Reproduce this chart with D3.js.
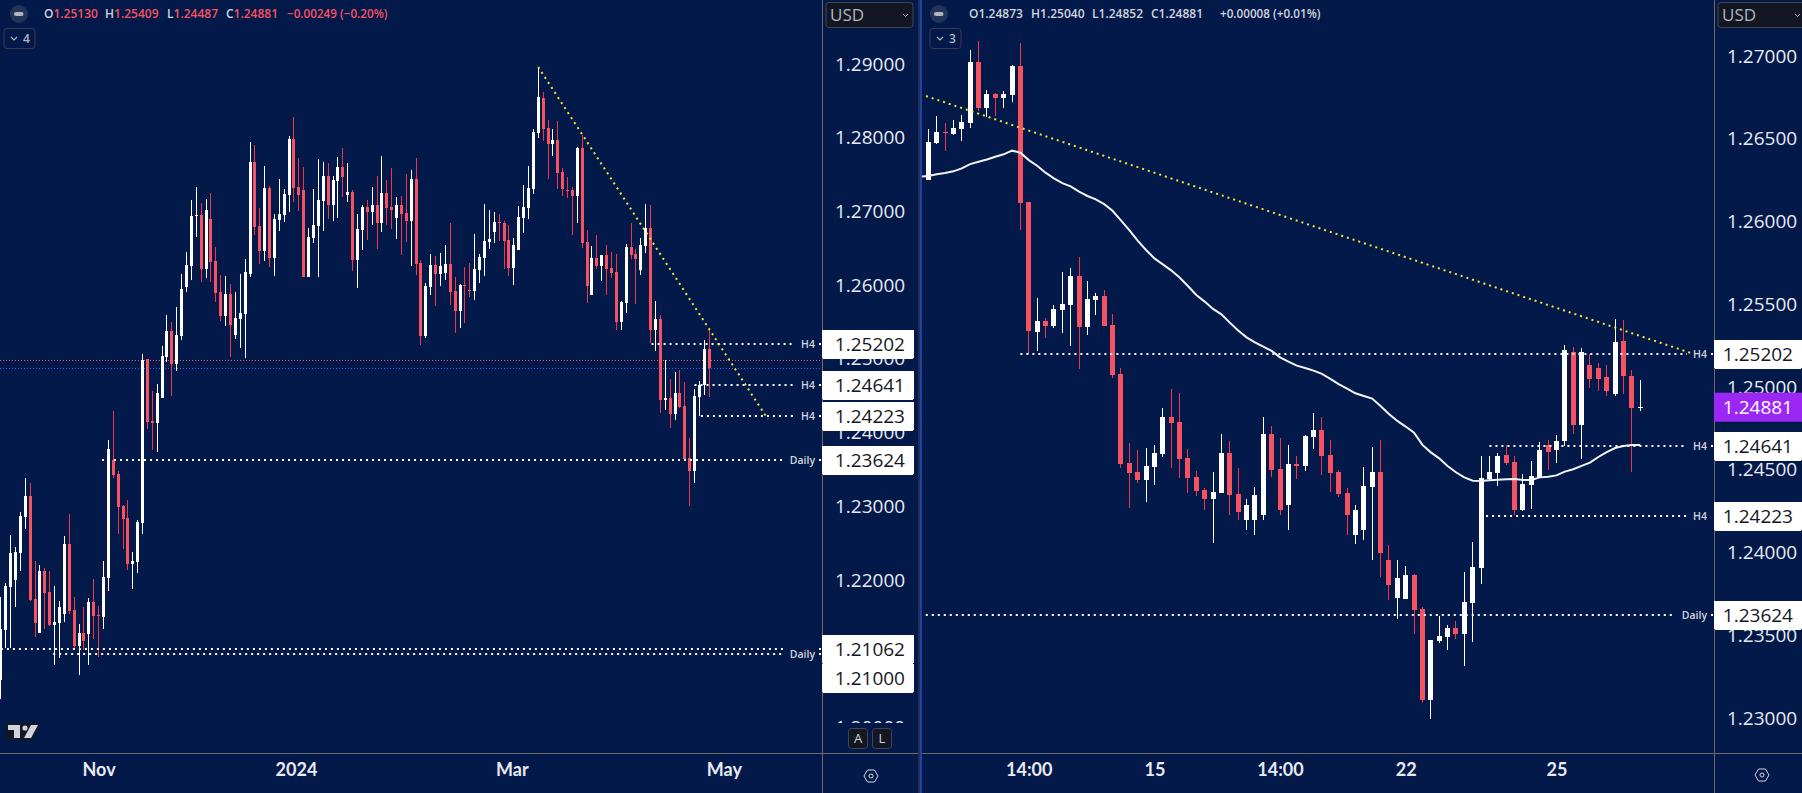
<!DOCTYPE html>
<html>
<head>
<meta charset="utf-8">
<script src="https://cdn.jsdelivr.net/npm/d3@7"></script>
<style>
  html, body { margin: 0; padding: 0; background: #02194a; overflow: hidden; }
  text { font-family: "Open Sans", sans-serif; }
  .tick text { font-family: "Open Sans", sans-serif; font-size: 19px; fill: #e8eaf0; font-weight: 500; }
  .time .tick text { font-family: Lato, sans-serif; font-size: 18px; font-weight: 700; }
</style>
</head>
<body>
<div id="chart"></div>
<script>
// left pane, daily candles
const leftOpen = [
  1.20643,1.21321,1.21905,1.21999,1.22366,1.22854,1.23139,1.21742,1.21281,1.22122,
  1.21837,1.21389,1.21416,1.21538,1.22488,1.21593,1.21104,1.21281,1.21267,1.21701,
  1.21525,1.21498,1.22027,1.23627,1.23437,1.23003,1.22841,1.22217,1.22244,1.22773,
  1.24998,1.24156,1.24129,1.24469,1.25025,1.25377,1.2493,1.2531,1.25975,1.26259,
  1.26938,1.26951,1.26219,1.26897,1.26327,1.25907,1.25581,1.2588,1.25323,1.2554,
  1.25608,1.26151,1.2767,1.26802,1.26463,1.27318,1.26368,1.26883,1.26951,1.27223,
  1.27982,1.27331,1.2729,1.2611,1.26639,1.26802,1.27141,1.2748,1.27087,1.27413,
  1.27602,1.27223,1.27263,1.26341,1.26748,1.2706,1.26992,1.27087,1.26843,1.2725,
  1.2706,1.26911,1.27087,1.26979,1.2687,1.2744,1.263,1.2531,1.25975,1.26273,
  1.26151,1.26165,1.26287,1.25921,1.25649,1.26002,1.25934,1.25921,1.26205,1.26368,
  1.26585,1.26721,1.26857,1.26843,1.26612,1.26233,1.26477,1.26911,1.27047,1.27304,
  1.28064,1.28539,1.28132,1.27915,1.27969,1.27535,1.27291,1.27291,1.27209,1.27861,
  1.26585,1.25866,1.26368,1.2626,1.26409,1.26233,1.26178,1.255,1.25758,1.26518,
  1.26423,1.26205,1.26531,1.26775,1.25392,1.25541,1.24442,1.24469,1.24252,1.24537,
  1.2436,1.23655,1.23478,1.24482,1.24645,1.2513];
const leftHigh = [
  1.21773,1.21959,1.2261,1.22447,1.22922,1.23383,1.23315,1.22257,1.22203,1.22162,
  1.22122,1.21918,1.21715,1.22596,1.22895,1.21769,1.21403,1.21633,1.21755,1.22013,
  1.21647,1.22257,1.23899,1.24292,1.23478,1.23017,1.23085,1.22379,1.22813,1.25065,
  1.24998,1.24563,1.24658,1.25174,1.25594,1.255,1.25699,1.26151,1.26449,1.27155,
  1.27331,1.27114,1.27168,1.2725,1.26517,1.26137,1.26124,1.26015,1.25907,1.26151,
  1.26354,1.27942,1.27901,1.27046,1.27616,1.27345,1.26965,1.2744,1.27304,1.28023,
  1.28281,1.27725,1.27602,1.26775,1.27304,1.27711,1.2767,1.27657,1.2748,1.27738,
  1.2786,1.27657,1.2729,1.26965,1.27087,1.27155,1.27331,1.2748,1.27752,1.27426,
  1.27589,1.27196,1.27209,1.27508,1.27562,1.27725,1.26341,1.26029,1.26423,1.26395,
  1.26436,1.26545,1.26843,1.26111,1.26016,1.26246,1.263,1.26694,1.26423,1.27101,
  1.27019,1.26992,1.26965,1.2687,1.26816,1.2664,1.27074,1.27359,1.27616,1.28118,
  1.28959,1.2862,1.2824,1.28118,1.28227,1.27589,1.27467,1.27331,1.27874,1.28037,
  1.26748,1.26531,1.2668,1.26415,1.26545,1.2645,1.26423,1.25785,1.26558,1.26843,
  1.2649,1.2664,1.27101,1.27087,1.25785,1.25595,1.24985,1.24727,1.24822,1.24849,
  1.24686,1.23926,1.24591,1.247,1.25256,1.25409];
const leftLow = [
  1.20385,1.21072,1.21072,1.21633,1.22122,1.22691,1.21715,1.21226,1.21281,1.21335,
  1.21375,1.20846,1.20941,1.2143,1.21538,1.2105,1.2071,1.2105,1.2085,1.21199,
  1.20955,1.21335,1.2185,1.23383,1.22624,1.2242,1.22135,1.21877,1.22094,1.22624,
  1.24048,1.23763,1.23736,1.24469,1.24957,1.24496,1.24835,1.25256,1.25907,1.2607,
  1.26653,1.26042,1.26097,1.26042,1.25771,1.25513,1.25445,1.25025,1.25269,1.25147,
  1.25011,1.2611,1.2668,1.26287,1.26327,1.26246,1.26124,1.26734,1.26856,1.26992,
  1.27128,1.27006,1.2611,1.2611,1.26571,1.2611,1.26734,1.26897,1.2687,1.26911,
  1.27196,1.27128,1.26192,1.25961,1.26476,1.26612,1.26816,1.2649,1.26721,1.26816,
  1.26761,1.26626,1.26409,1.26585,1.2626,1.26138,1.25188,1.25283,1.25866,1.25717,
  1.25988,1.2607,1.25731,1.25351,1.25419,1.25486,1.25839,1.25798,1.26029,1.26124,
  1.2649,1.26572,1.26599,1.26219,1.26124,1.26002,1.26477,1.26707,1.26897,1.27236,
  1.27996,1.27955,1.2744,1.27752,1.27304,1.27209,1.27182,1.2668,1.26843,1.26504,
  1.25758,1.25866,1.26219,1.26056,1.25866,1.26097,1.25392,1.25392,1.25622,1.26355,
  1.25744,1.26138,1.26436,1.25215,1.25107,1.24265,1.24306,1.24062,1.2417,1.24333,
  1.23641,1.23004,1.23316,1.24225,1.2451,1.24487];
const leftClose = [
  1.21335,1.21918,1.22366,1.22379,1.22868,1.23139,1.21728,1.21416,1.22122,1.21823,
  1.21389,1.2143,1.21633,1.22488,1.21579,1.21104,1.21281,1.21172,1.21701,1.21511,
  1.21511,1.2204,1.23777,1.23424,1.2299,1.22827,1.22217,1.22257,1.22786,1.24984,
  1.24143,1.24129,1.24536,1.25038,1.25377,1.2493,1.25323,1.25947,1.26273,1.26938,
  1.26951,1.26219,1.27019,1.26314,1.25893,1.25581,1.2588,1.25459,1.25554,1.25622,
  1.26178,1.2767,1.26789,1.26463,1.27318,1.26368,1.26897,1.26965,1.27236,1.27982,
  1.27318,1.27223,1.2611,1.26653,1.26816,1.27155,1.2748,1.27087,1.27426,1.27602,
  1.27467,1.27263,1.26341,1.26761,1.2706,1.26992,1.27087,1.26843,1.2725,1.27046,
  1.27019,1.27087,1.26965,1.2687,1.2744,1.26287,1.2531,1.25988,1.26273,1.26151,
  1.2626,1.26287,1.25907,1.25649,1.26002,1.25988,1.25921,1.26219,1.26382,1.26599,
  1.26626,1.26857,1.26843,1.26599,1.26233,1.26545,1.26924,1.2706,1.27318,1.28078,
  1.28552,1.28118,1.27915,1.27969,1.27521,1.27304,1.27277,1.27209,1.27861,1.26572,
  1.25988,1.26368,1.2626,1.26409,1.26219,1.26165,1.255,1.25771,1.26518,1.26409,
  1.26355,1.26545,1.26775,1.25392,1.25541,1.24442,1.24469,1.24252,1.24537,1.24347,
  1.23641,1.23478,1.24496,1.24645,1.25134,1.24881];

// right pane, H4 candles
const rightOpen = [
  1.2621,1.2625,1.26474,1.2654,1.26528,1.26559,1.26595,1.26963,1.26685,1.2677,
  1.26746,1.26764,1.26939,1.26118,1.25332,1.25399,1.25368,1.25465,1.25495,1.2567,
  1.25362,1.25525,1.2555,1.25374,1.25078,1.24541,1.24486,1.24438,1.24516,1.24595,
  1.24818,1.24788,1.24571,1.24456,1.24378,1.24324,1.2436,1.24601,1.24354,1.24196,
  1.24196,1.24227,1.24716,1.24505,1.24287,1.24535,1.24523,1.24698,1.2474,1.24589,
  1.24487,1.2436,1.24106,1.24136,1.24396,1.24487,1.23955,1.23725,1.23719,1.23864,
  1.23659,1.23109,1.23465,1.2349,1.23544,1.23508,1.23695,1.23906,1.24444,1.2448,
  1.24589,1.24547,1.24257,1.24408,1.24456,1.2465,1.24619,1.24674,1.25212,1.2477,
  1.25133,1.25115,1.2506,1.2496,1.25278,1.25066,1.24873];
const rightHigh = [
  1.26256,1.26559,1.26637,1.26595,1.26613,1.26643,1.27036,1.2709,1.26794,1.26776,
  1.26788,1.26945,1.27078,1.26118,1.25538,1.25417,1.25495,1.25695,1.25719,1.25785,
  1.2564,1.25568,1.25586,1.25441,1.25115,1.24661,1.24619,1.24631,1.24649,1.24873,
  1.24988,1.24963,1.24625,1.24492,1.2439,1.24487,1.24716,1.24674,1.24511,1.24323,
  1.24396,1.24819,1.24765,1.24692,1.2465,1.24583,1.2471,1.24843,1.24819,1.2468,
  1.24499,1.2439,1.24287,1.24517,1.24638,1.2468,1.24045,1.23955,1.23919,1.2387,
  1.23671,1.23471,1.23616,1.23562,1.23586,1.23882,1.24064,1.24583,1.24583,1.24601,
  1.2465,1.24583,1.24474,1.24553,1.24668,1.2468,1.2471,1.25254,1.25242,1.25236,
  1.252,1.25145,1.25133,1.25411,1.25405,1.25103,1.2504];
const rightLow = [
  1.2621,1.2625,1.26468,1.26426,1.26522,1.26486,1.26565,1.26667,1.26631,1.26637,
  1.26685,1.26722,1.25948,1.25199,1.25217,1.25296,1.25356,1.25326,1.25247,1.25108,
  1.25314,1.25435,1.25368,1.25054,1.2451,1.24269,1.2442,1.24305,1.24408,1.24577,
  1.2451,1.2445,1.24359,1.24341,1.24257,1.24057,1.2436,1.24227,1.24196,1.24136,
  1.24106,1.24196,1.24456,1.24227,1.24136,1.24444,1.24493,1.24626,1.24468,1.24366,
  1.24336,1.24106,1.2405,1.24076,1.23955,1.2385,1.23713,1.236,1.23719,1.23508,
  1.23091,1.22994,1.23453,1.23411,1.23477,1.23314,1.23459,1.2381,1.2443,1.24402,
  1.24529,1.24227,1.24251,1.24263,1.24456,1.24499,1.24541,1.24644,1.24716,1.24565,
  1.24994,1.24976,1.24946,1.24946,1.24958,1.24487,1.24852];
const rightClose = [
  1.26256,1.2648,1.2654,1.26534,1.26565,1.26601,1.26963,1.26685,1.2677,1.26746,
  1.2677,1.26939,1.26111,1.25338,1.25399,1.25368,1.25471,1.25501,1.2567,1.25362,
  1.25531,1.2555,1.25368,1.25072,1.24535,1.2448,1.24438,1.24522,1.24601,1.24818,
  1.24782,1.24565,1.2445,1.24371,1.24324,1.24366,1.24601,1.24348,1.24245,1.24287,
  1.24347,1.24716,1.24499,1.24257,1.24535,1.24523,1.24704,1.2474,1.24583,1.24481,
  1.24354,1.24227,1.24257,1.24402,1.24487,1.24,1.23804,1.23846,1.23864,1.23653,
  1.23109,1.23471,1.23496,1.23544,1.23508,1.23701,1.23913,1.2445,1.24486,1.24583,
  1.24541,1.24257,1.24414,1.24462,1.24619,1.24607,1.24674,1.25224,1.2477,1.25212,
  1.25048,1.25048,1.24976,1.25272,1.25066,1.24873,1.24881];
// moving average over the right pane
const rightAverage = [
  1.26271,1.26275,1.26285,1.26293,1.26303,1.26321,1.26347,1.26361,1.26375,1.26391,
  1.26406,1.26428,1.26416,1.26371,1.26337,1.26295,1.26261,1.26232,1.26212,1.2618,
  1.26154,1.26134,1.26105,1.26065,1.26007,1.25948,1.25884,1.25828,1.25777,1.25741,
  1.25705,1.25662,1.2561,1.25556,1.25516,1.25472,1.25439,1.25389,1.25341,1.253,
  1.2527,1.25244,1.25218,1.25179,1.25153,1.25129,1.25115,1.25099,1.25079,1.25049,
  1.25018,1.2499,1.24962,1.24946,1.2493,1.24885,1.24837,1.24795,1.24761,1.24724,
  1.2465,1.24605,1.24569,1.24523,1.24485,1.24454,1.24434,1.24432,1.24436,1.2444,
  1.24442,1.24444,1.24438,1.24438,1.24454,1.24458,1.24466,1.24489,1.24503,1.24523,
  1.24543,1.24577,1.24607,1.24631,1.24643,1.24649,1.24649];

const leftTicks = [1.29,1.28,1.27,1.26,1.25,1.24,1.23,1.22,1.2];
const rightTicks = [1.27,1.265,1.26,1.255,1.25,1.245,1.24,1.235,1.23];
const leftTimeTicks = [20,60.4,104.6,148];
const leftTimeLabels = ["Nov","2024","Mar","May"];
const rightTimeTicks = [13,28,43,58,76];
const rightTimeLabels = ["14:00","15","14:00","22","25"];

// horizontal levels: price, first candle, label
const leftLevelPrices = [1.25202,1.24641,1.24223,1.23624,1.21062,1.21];
const leftLevelStarts = [133.2,142,143.3,20.7,0,10.7];
const leftLevelLabels = ["H4","H4","H4","Daily","","Daily"];
const rightLevelPrices = [1.25202,1.24641,1.24223,1.23624];
const rightLevelStarts = [12.0,68,67.6,0.7];
const rightLevelLabels = ["H4","H4","H4","Daily"];
const leftTagPrices = [1.25202,1.24641,1.24223,1.23624,1.21062,1.21];
const rightTagPrices = [1.25202,1.24641,1.24223,1.23624];
const lastPrice = 1.24881;
const prevClosePrice = 1.2499;

// trend lines: [index, price]
const leftTrendIdx = [110,157];
const leftTrendPrice = [1.28959,1.24184];
const rightTrendIdx = [0.73,92.07];
const rightTrendPrice = [1.26758,1.25205];

const leftHeadKeys = ["O","H","L","C"];
const leftHeadVals = ["1.25130","1.25409","1.24487","1.24881"];
const rightHeadVals = ["1.24873","1.25040","1.24852","1.24881"];

const width = 1802, height = 793;
const bg = "#02194a", up = "#ffffff", down = "#f7525f", downWick = "#f23645";
const border = "#6b6b6b", btn = "#131722", btnLine = "#434651";

const svg = d3.select("#chart").append("svg")
  .attr("width", width)
  .attr("height", height)
  .style("display", "block")
  .style("background", bg);

const xL = d3.scaleLinear().domain([0,145]).range([0.9,709.2]);
const yL = d3.scaleLinear().domain([1.29,1.22]).range([64,580]);
const xR = d3.scaleLinear().domain([0,86]).range([919.9,1640.2]);
const yR = d3.scaleLinear().domain([1.27,1.23]).range([56,718]);

const defs = svg.append("defs");
defs.append("clipPath").attr("id","clipL").append("rect").attr("x",0).attr("y",0).attr("width",822).attr("height",753);
defs.append("clipPath").attr("id","clipR").append("rect").attr("x",922).attr("y",0).attr("width",792).attr("height",753);
defs.append("clipPath").attr("id","clipAxisL").append("rect").attr("x",823).attr("y",28).attr("width",95).attr("height",695);

function candles(g, x, y, open, high, low, close, bodyW) {
  const idx = d3.range(open.length);
  const half = Math.floor(bodyW / 2);
  const px = i => Math.floor(x(i));
  g.append("g").attr("shape-rendering","crispEdges").selectAll("rect")
    .data(idx).join("rect")
    .attr("x", px)
    .attr("width", 1)
    .attr("y", i => y(high[i]))
    .attr("height", i => y(low[i]) - y(high[i]))
    .attr("fill", i => close[i] >= open[i] ? up : downWick);
  g.append("g").attr("shape-rendering","crispEdges").selectAll("rect")
    .data(idx).join("rect")
    .attr("x", i => px(i) - half)
    .attr("width", bodyW)
    .attr("y", i => y(Math.max(open[i], close[i])))
    .attr("height", i => Math.max(1, Math.abs(y(open[i]) - y(close[i]))))
    .attr("fill", i => close[i] >= open[i] ? up : down);
}

function levels(g, x, y, prices, starts, labels, axisX, noStub) {
  // label sits just left of the price axis
  prices.forEach((p, k) => {
    const lab = labels[k];
    const labW = lab === "H4" ? 15 : 27;
    const labEnd = axisX - 7;
    const yy = Math.round(y(p));
    g.append("line")
      .attr("x1", x(starts[k])).attr("x2", labEnd - labW - 5)
      .attr("y1", yy).attr("y2", yy)
      .attr("stroke", "#fff").attr("stroke-width", 2)
      .attr("stroke-dasharray", "2 4");
    if (lab) {
      g.append("text")
        .attr("x", labEnd).attr("y", yy).attr("dy", "0.35em")
        .attr("text-anchor", "end")
        .attr("font-size", 10.5).attr("font-weight", 600)
        .attr("fill", "#d1d4dc")
        .text(lab);
    }
    if (p !== noStub) {
      g.append("rect").attr("x", axisX - 3).attr("y", yy - 1).attr("width", 2).attr("height", 2).attr("fill", "#fff");
    }
  });
}

function trend(g, x, y, idx, price) {
  g.append("line")
    .attr("x1", x(idx[0])).attr("y1", y(price[0]))
    .attr("x2", x(idx[1])).attr("y2", y(price[1]))
    .attr("stroke", "#f5e536").attr("stroke-width", 2)
    .attr("stroke-dasharray", "2 4");
}

function priceAxis(x0, y, ticks, clip) {
  const a = svg.append("g")
    .attr("transform", `translate(${x0},0)`)
    .call(d3.axisRight(y).tickValues(ticks).tickSize(0).tickPadding(13).tickFormat(d3.format(".5f")));
  a.select(".domain").remove();
  if (clip) {
    svg.append("g").attr("clip-path", clip).node().appendChild(a.node());
  }
  return a;
}

function timeAxis(x, ticks, labels) {
  const a = svg.append("g")
    .attr("class","time")
    .attr("transform","translate(0,753)")
    .call(d3.axisBottom(x).tickValues(ticks).tickSize(0).tickPadding(10).tickFormat((d,i) => labels[i]));
  a.select(".domain").remove();
}

function tags(x0, w, y, prices) {
  let prev = -100;
  prices.forEach(p => {
    let cy = Math.round(y(p));
    if (cy - prev < 29) cy = prev + 29;
    prev = cy;
    svg.append("rect").attr("x", x0).attr("y", cy - 14.5).attr("width", w).attr("height", 29).attr("rx", 1).attr("fill", "#fff").attr("shape-rendering","crispEdges");
    svg.append("text").attr("x", x0 + w - 9).attr("y", cy).attr("dy", "0.35em")
      .attr("text-anchor","end").attr("font-size", 19).attr("fill", "#131722").text(p.toFixed(5));
  });
}

function usdBox(x0, w) {
  svg.append("rect").attr("x", x0).attr("y", 2.5).attr("width", w).attr("height", 25).attr("rx", 3)
    .attr("fill", btn).attr("stroke", btnLine);
  svg.append("text").attr("x", x0 + 4).attr("y", 15).attr("dy", "0.36em")
    .attr("font-size", 17).attr("fill", "#b2b5be").text("USD");
  svg.append("path").attr("d", `M${x0+77},14l2.5,2.5l2.5,-2.5`).attr("fill","none").attr("stroke","#b2b5be");
}

function header(x0, vals, xs, extra, extraX, color) {
  svg.append("circle").attr("cx", x0 + 19).attr("cy", 14).attr("r", 9).attr("fill", "#223459");
  svg.append("rect").attr("x", x0 + 14).attr("y", 12).attr("width", 9.5).attr("height", 4).attr("rx", 2).attr("fill", "#b2b5be");
  leftHeadKeys.forEach((k, i) => {
    const t = svg.append("text").attr("x", xs[i]).attr("y", 14).attr("dy", "0.36em")
      .attr("font-size", 12).attr("font-weight", 600);
    t.append("tspan").attr("fill", "#d1d4dc").text(k);
    t.append("tspan").attr("fill", color).text(vals[i]);
  });
  svg.append("text").attr("x", extraX).attr("y", 14).attr("dy", "0.36em")
    .attr("font-size", 11.7).attr("font-weight", 600).attr("fill", color).text(extra);
}

function countBox(x0, label) {
  svg.append("rect").attr("x", x0).attr("y", 28.5).attr("width", 31).attr("height", 20).attr("rx", 3)
    .attr("fill", "none").attr("stroke", "#363c4e");
  svg.append("path").attr("d", `M${x0+7},37l3,3l3,-3`).attr("fill","none").attr("stroke","#b2b5be").attr("stroke-width",1.2);
  svg.append("text").attr("x", x0 + 19).attr("y", 38.5).attr("dy", "0.36em")
    .attr("font-size", 12).attr("font-weight", 600).attr("fill", "#b2b5be").text(label);
}

function gearIcon(cx, cy) {
  const g = svg.append("g").attr("transform", `translate(${cx},${cy})`).attr("fill","none").attr("stroke","#d1d4dc");
  g.append("path").attr("d","M-7,0L-3.5,-6H3.5L7,0L3.5,6H-3.5Z");
  g.append("circle").attr("r",2);
}

// left pane
const paneL = svg.append("g").attr("clip-path","url(#clipL)");
[[prevClosePrice,"#f7525f"],[lastPrice,"#2962ff"]].forEach(([p,c]) => {
  paneL.append("line").attr("x1",0).attr("x2",822)
    .attr("y1",Math.round(yL(p))+0.5).attr("y2",Math.round(yL(p))+0.5)
    .attr("stroke",c).attr("stroke-width",1).attr("stroke-dasharray","1 2");
});
candles(paneL, xL, yL, leftOpen, leftHigh, leftLow, leftClose, 3);
levels(paneL, xL, yL, leftLevelPrices, leftLevelStarts, leftLevelLabels, 822);
trend(paneL, xL, yL, leftTrendIdx, leftTrendPrice);

// right pane
const paneR = svg.append("g").attr("clip-path","url(#clipR)");
candles(paneR, xR, yR, rightOpen, rightHigh, rightLow, rightClose, 5);
paneR.append("path")
  .datum(rightAverage)
  .attr("d", d3.line().x((d,i) => xR(i)).y(d => yR(d)))
  .attr("fill","none").attr("stroke","#f2f3f5").attr("stroke-width",2);
levels(paneR, xR, yR, rightLevelPrices, rightLevelStarts, rightLevelLabels, 1714, 1.24223);
trend(paneR, xR, yR, rightTrendIdx, rightTrendPrice);

// frame lines
svg.append("g").attr("stroke",border).attr("shape-rendering","crispEdges").call(g => {
  g.append("line").attr("x1",0).attr("x2",918).attr("y1",753.5).attr("y2",753.5);
  g.append("line").attr("x1",922).attr("x2",width).attr("y1",753.5).attr("y2",753.5);
  g.append("line").attr("x1",822.5).attr("x2",822.5).attr("y1",0).attr("y2",height);
  g.append("line").attr("x1",1714.5).attr("x2",1714.5).attr("y1",0).attr("y2",height);
});
svg.append("rect").attr("x",918).attr("y",0).attr("width",2).attr("height",height).attr("fill","#252e4a");
svg.append("rect").attr("x",920).attr("y",0).attr("width",2).attr("height",height).attr("fill","#1c43ad");

// axes
priceAxis(822, yL, leftTicks, "url(#clipAxisL)");
priceAxis(1714, yR, rightTicks);
timeAxis(xL, leftTimeTicks, leftTimeLabels);
timeAxis(xR, rightTimeTicks, rightTimeLabels);
tags(822, 92, yL, leftTagPrices);
tags(1714, 88, yR, rightTagPrices);

// last price tag on the right axis
svg.append("rect").attr("x",1714).attr("y",yR(lastPrice)-14).attr("width",88).attr("height",29).attr("fill","#9c27f5");
svg.append("text").attr("x",1793).attr("y",yR(lastPrice)+0.5).attr("dy","0.35em")
  .attr("text-anchor","end").attr("font-size",19).attr("font-weight",500).attr("fill","#fff").text(lastPrice.toFixed(5));

usdBox(826, 87);
usdBox(1718, 92);
header(0, leftHeadVals, [44,105,167,226], "\u22120.00249 (\u22120.20%)", 287, "#f7525f");
header(920, rightHeadVals, [969,1031,1092,1151], "+0.00008 (+0.01%)", 1220, "#d1d4dc");
countBox(4, "4");
countBox(930, "3");

// A / L buttons
["A","L"].forEach((b, i) => {
  const bx = 848.5 + i * 24;
  svg.append("rect").attr("x",bx).attr("y",728.5).attr("width",19).attr("height",20).attr("rx",3)
    .attr("fill",btn).attr("stroke",btnLine);
  svg.append("text").attr("x",bx+9.5).attr("y",738.5).attr("dy","0.36em").attr("text-anchor","middle")
    .attr("font-size",13).attr("fill","#d1d4dc").text(b);
});
gearIcon(871, 776);
gearIcon(1762, 775);

// logo
const logo = svg.append("g").attr("transform","translate(6,723)");
logo.append("path").attr("d","M0,0H33L27,17H0Z").attr("fill","#131722");
logo.append("path").attr("d","M2,2H14V15H8V7H2Z").attr("fill","#d1d4dc");
logo.append("circle").attr("cx",19).attr("cy",5).attr("r",2.6).attr("fill","#d1d4dc");
logo.append("path").attr("d","M25,2H32L25,15H18Z").attr("fill","#d1d4dc");
</script>
</body>
</html>
